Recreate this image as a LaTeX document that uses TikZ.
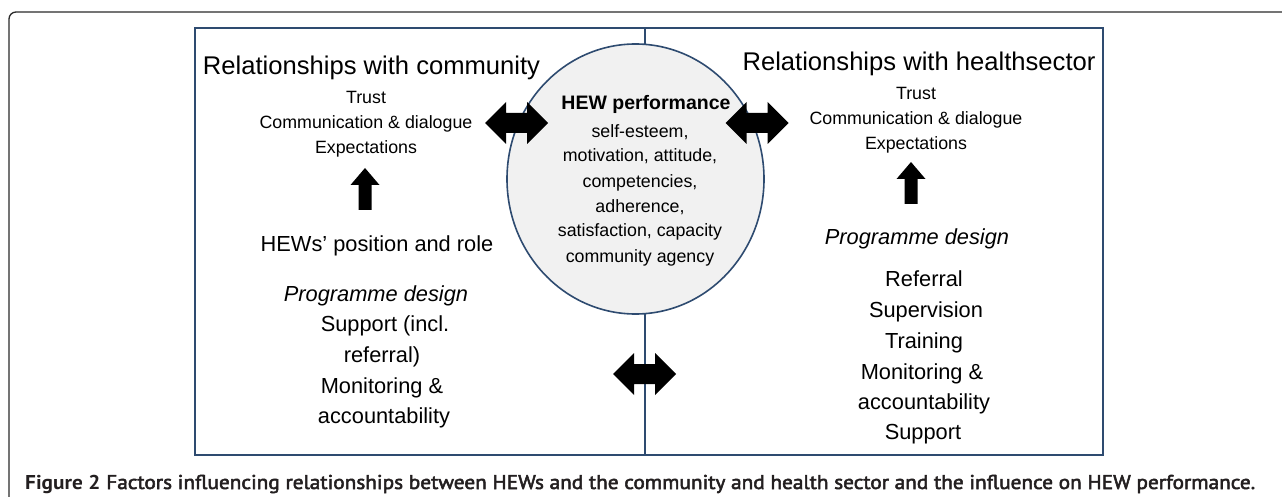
\documentclass[tikz,border=0pt]{standalone}
\usepackage{fontspec}
\setmainfont{Liberation Sans}
\newfontfamily\capfont{PT Sans}
\newfontfamily\capsemi{PT Sans}[FakeBold=2.5]
\usetikzlibrary{shapes.geometric}
\definecolor{navy}{HTML}{2E4B70}
\definecolor{framecol}{HTML}{2A2A2A}
\definecolor{cfill}{HTML}{F1F1F1}
\definecolor{captext}{HTML}{231F20}
\newsavebox\capbox
\tikzset{
  fs/.style={font=\fontsize{#1}{#1}\selectfont, inner sep=0pt, anchor=base},
  small/.style={fs=17.8},
  mid/.style={fs=21.8},
  big/.style={fs=25.6},
  dblarrow/.pic={\fill[black] (-31.5,0) -- (-10.5,-21) -- (-10.5,-10) -- (10.5,-10) -- (10.5,-21) -- (31.5,0) -- (10.5,21) -- (10.5,10) -- (-10.5,10) -- (-10.5,21) -- cycle;},
  uparrow/.pic={\fill[black] (0,0) -- (14.5,17) -- (6.5,17) -- (6.5,42) -- (-6.5,42) -- (-6.5,17) -- (-14.5,17) -- cycle;}
}
\begin{document}
\begin{tikzpicture}[x=1pt,y=-1pt]
\useasboundingbox (0,0) rectangle (1282,497);
% outer frame
\draw[framecol, line width=1.3pt, rounded corners=7pt] (1283,12) -- (9,12) -- (9,498);
% inner box and divider
\draw[navy, line width=1.6pt] (195,28) rectangle (1103,455);
\draw[navy, line width=1.6pt] (645,28) -- (645,455);
% central circle
\node[ellipse, draw=navy, fill=cfill, line width=1.6pt, minimum width=257pt, minimum height=270pt, inner sep=0pt] (perf) at (635.5,179) {};
% circle text
\node[fs=19.5, font=\fontsize{19.5}{19.5}\selectfont\bfseries] (hp) at (646,110) {HEW performance};
\foreach \t/\yy [count=\i] in {{self-esteem,}/131.7, {motivation, attitude,}/156, {competencies,}/181.7, {adherence,}/206.7, {satisfaction, capacity}/231, {community agency}/256.7}
  \node[small] (c\i) at (640,\yy+5.5) {\t};
% left column
\node[big] (lhead) at (371.5,74.5) {Relationships with community};
\node[small] (lt1) at (366,103.5) {Trust};
\node[small] (lt2) at (366,128.5) {Communication \& dialogue};
\node[small] (lt3) at (366,153.5) {Expectations};
\node[mid] (lpos) at (377,251.5) {HEWs’ position and role};
\node[mid, font=\fontsize{21.8}{21.8}\selectfont\itshape] (lpd) at (376,301.5) {Programme design};
\node[mid] (l1) at (385,331.5) {Support (incl.};
\node[mid] (l2) at (382,362.5) {referral)};
\node[mid] (l3) at (382,393.5) {Monitoring \&};
\node[mid] (l4) at (384,423.5) {accountability};
% right column
\node[big] (rhead) at (919,70.5) {Relationships with healthsector};
\node[small] (rt1) at (916,99.5) {Trust};
\node[small] (rt2) at (916,124.5) {Communication \& dialogue};
\node[small] (rt3) at (916,149.5) {Expectations};
\node[mid, font=\fontsize{21.8}{21.8}\selectfont\itshape] (rpd) at (917,244.5) {Programme design};
\node[mid] (r1) at (924,286.5) {Referral};
\node[mid] (r2) at (926,317.5) {Supervision};
\node[mid] (r3) at (924,348.5) {Training};
\node[mid] (r4) at (922,379.5) {Monitoring \&};
\node[mid] (r5) at (924,409.5) {accountability};
\node[mid] (r6) at (923,439.5) {Support};
% block arrows
\pic at (516.5,123) {dblarrow};
\pic at (757,123) {dblarrow};
\pic at (644.5,374) {dblarrow};
\pic at (365,168) {uparrow};
\pic at (911,162) {uparrow};
% caption
\node[anchor=base west, inner sep=0pt, text=captext] (cap) at (25,489) {\sbox\capbox{\fontsize{20}{20}\selectfont{\capfont\bfseries Figure 2} \capsemi Factors influencing relationships between HEWs and the community and health sector and the influence on HEW performance.}\resizebox{1230pt}{\height}{\usebox\capbox}};
\end{tikzpicture}
\end{document}
